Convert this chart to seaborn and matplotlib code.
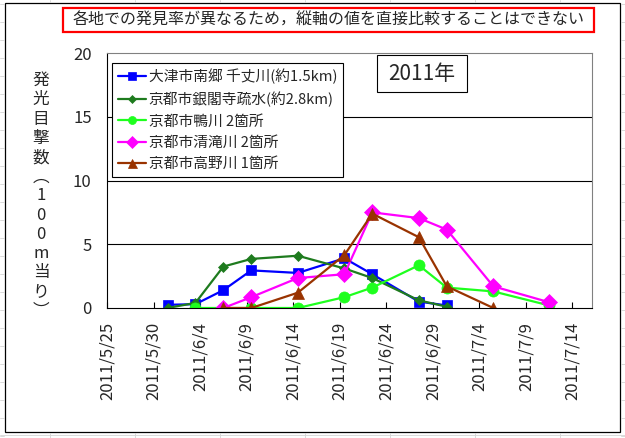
import matplotlib
matplotlib.use("Agg")
import matplotlib.pyplot as plt
from matplotlib.patches import Rectangle
from matplotlib.lines import Line2D
import seaborn as sns
import pandas as pd

# ---------------- data ----------------
title_text = "各地での発見率が異なるため，縦軸の値を直接比較することはできない"
year_text = "2011年"
ylabel_text = "発\n光\n目\n撃\n数\n︵\n1\n0\n0\nm\n当\nり\n︶"

otsu_name = "大津市南郷 千丈川(約1.5km)"
otsu_dates = ["2011-05-31", "2011-06-03", "2011-06-06", "2011-06-09", "2011-06-14",
              "2011-06-19", "2011-06-22", "2011-06-27", "2011-06-30"]
otsu_vals = [0.25, 0.3, 1.4, 2.95, 2.75, 3.9, 2.65, 0.5, 0.2]

ginkaku_name = "京都市銀閣寺疏水(約2.8km)"
ginkaku_dates = ["2011-05-31", "2011-06-03", "2011-06-06", "2011-06-09", "2011-06-14",
                 "2011-06-19", "2011-06-22", "2011-06-27", "2011-06-30"]
ginkaku_vals = [0.0, 0.4, 3.25, 3.85, 4.1, 3.1, 2.35, 0.6, 0.1]

kamo_name = "京都市鴨川 2箇所"
kamo_dates = ["2011-06-03", "2011-06-09", "2011-06-14", "2011-06-19", "2011-06-22",
              "2011-06-27", "2011-06-30", "2011-07-05", "2011-07-11"]
kamo_vals = [0.0, 0.0, 0.0, 0.85, 1.6, 3.35, 1.6, 1.3, 0.2]

kiyotaki_name = "京都市清滝川 2箇所"
kiyotaki_dates = ["2011-06-06", "2011-06-09", "2011-06-14", "2011-06-19", "2011-06-22",
                  "2011-06-27", "2011-06-30", "2011-07-05", "2011-07-11"]
kiyotaki_vals = [0.0, 0.85, 2.35, 2.65, 7.5, 7.05, 6.15, 1.7, 0.45]

takano_name = "京都市高野川 1箇所"
takano_dates = ["2011-06-06", "2011-06-09", "2011-06-14", "2011-06-19", "2011-06-22",
                "2011-06-27", "2011-06-30", "2011-07-05"]
takano_vals = [0.0, 0.0, 1.2, 4.15, 7.4, 5.55, 1.7, 0.0]

tick_dates = ["2011-05-25", "2011-05-30", "2011-06-04", "2011-06-09", "2011-06-14",
              "2011-06-19", "2011-06-24", "2011-06-29", "2011-07-04", "2011-07-09",
              "2011-07-14"]
y_ticks = [0, 5, 10, 15, 20]

# ---------------- style ----------------
sns.set_style("white")
plt.rcParams["font.family"] = ["Noto Sans CJK JP", "DejaVu Sans"]

W, H = 625, 438
fig = plt.figure(figsize=(W / 100, H / 100), dpi=100)
fig.patch.set_facecolor("white")

def fx(px):
    return px / W

def fy(py):
    return 1 - py / H

L, R, T, B = 107, 592, 53, 308
ax = fig.add_axes([fx(L), fy(B), fx(R) - fx(L), fy(T) - fy(B)])

series = [
    (otsu_name, otsu_dates, otsu_vals, "#0000FF", "s", 7.5),
    (ginkaku_name, ginkaku_dates, ginkaku_vals, "#1E7B1E", "D", 5.5),
    (kamo_name, kamo_dates, kamo_vals, "#1EFF1E", "o", 8),
    (kiyotaki_name, kiyotaki_dates, kiyotaki_vals, "#FF00FF", "D", 8),
    (takano_name, takano_dates, takano_vals, "#993300", "^", 9),
]

half_day = pd.Timedelta(hours=12)
for name, dates, vals, col, mk, ms in series:
    df = pd.DataFrame({"date": pd.to_datetime(dates) + half_day, "val": vals})
    sns.lineplot(data=df, x="date", y="val", ax=ax, color=col, marker=mk,
                 markersize=ms, markeredgecolor=col, markeredgewidth=0.5,
                 linewidth=1.6, label=name, estimator=None, sort=False)

start = pd.Timestamp("2011-05-25")
ax.set_xlim(start, start + pd.Timedelta(days=52.1))
ax.set_ylim(0, 20)

ticks = pd.to_datetime(tick_dates)
ax.set_xticks(ticks)
ax.set_xticklabels([f"{d.year}/{d.month}/{d.day}" for d in ticks],
                   rotation=90, va="top", ha="center", fontsize=12)
ax.tick_params(axis="x", direction="in", length=4, width=0.8, color="black",
               pad=10, bottom=True)
ax.set_yticks(y_ticks)
ax.set_yticklabels([str(v) for v in y_ticks], fontsize=12)
ax.tick_params(axis="y", length=0, pad=11)
ax.set_xlabel("")
ax.set_ylabel("")

for v in y_ticks[1:-1]:
    ax.axhline(v, color="black", linewidth=0.8, zorder=0)

ax.spines["left"].set_color("black")
ax.spines["bottom"].set_color("black")
ax.spines["top"].set_color("#808080")
ax.spines["right"].set_color("#808080")
for s in ax.spines.values():
    s.set_linewidth(0.8)

leg = ax.legend(loc="upper left", bbox_to_anchor=((112 - L) / (R - L), (B - 63) / (B - T)),
                borderaxespad=0, fontsize=10.6, frameon=True, fancybox=False,
                edgecolor="black", framealpha=1, handlelength=1.9,
                labelspacing=0.5, borderpad=0.4, handletextpad=0.2,
                markerscale=0.72)
leg.get_frame().set_linewidth(0.8)

# "2011年" box
fig.add_artist(Rectangle((fx(377), fy(92)), fx(467) - fx(377), fy(55) - fy(92),
                         transform=fig.transFigure, fill=True, facecolor="white",
                         edgecolor="black", linewidth=0.8, zorder=5))
fig.text(fx(422), fy(74), year_text, ha="center", va="center", fontsize=15, zorder=6)

# title red box
fig.add_artist(Rectangle((fx(63), fy(32)), fx(594) - fx(63), fy(8) - fy(32),
                         transform=fig.transFigure, fill=False,
                         edgecolor="#FF0000", linewidth=1.6))
fig.text(fx(328.5), fy(20), title_text, ha="center", va="center", fontsize=11.5)

# y label (vertical stacked)
fig.text(fx(41), fy(196), ylabel_text, ha="center", va="center", fontsize=12,
         linespacing=1.17)

# chart frame
fig.add_artist(Rectangle((fx(5), fy(432)), fx(620) - fx(5), fy(3) - fy(432),
                         transform=fig.transFigure, fill=False,
                         edgecolor="black", linewidth=0.9))

# faint spreadsheet cell lines outside the chart frame
grid_col = "#D4D4D4"
for y in range(4, H, 18):
    fig.add_artist(Line2D([fx(0), fx(4)], [fy(y), fy(y)], color=grid_col, linewidth=0.6))
    fig.add_artist(Line2D([fx(621), fx(625)], [fy(y), fy(y)], color=grid_col, linewidth=0.6))
for x in range(50, W, 85):
    fig.add_artist(Line2D([fx(x), fx(x)], [fy(433), fy(438)], color=grid_col, linewidth=0.6))
    fig.add_artist(Line2D([fx(x), fx(x)], [fy(0), fy(2)], color=grid_col, linewidth=0.6))
fig.add_artist(Line2D([fx(0), fx(625)], [fy(435), fy(435)], color=grid_col, linewidth=0.6))

fig.savefig("out.png", dpi=100, facecolor="white")
